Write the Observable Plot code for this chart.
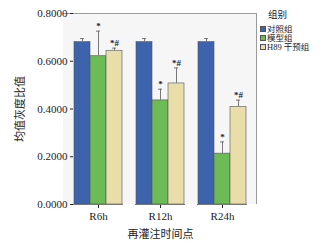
<!DOCTYPE html>
<html><head><meta charset="utf-8">
<script src="https://cdn.jsdelivr.net/npm/d3@7"></script>
<script src="https://cdn.jsdelivr.net/npm/@observablehq/plot@0.6"></script>
<style>
body{margin:0;background:#fff;}
#wrap{position:relative;width:329px;height:244px;font-family:'Liberation Serif','Noto Sans CJK SC',serif;}
#bg{position:absolute;left:63px;top:13px;width:194px;height:191px;background:#f6f6f6;border-top:1px solid #9a9a9a;border-right:1px solid #9a9a9a;box-sizing:border-box;}
#chart{position:absolute;left:0;top:0;}
#chart svg text{font-family:'Liberation Serif','Noto Sans CJK SC',serif;}
#legend{position:absolute;left:260px;top:10px;font-size:8.5px;color:#222;}
#legend .t{margin-left:8px;height:14.5px;line-height:11px;font-size:9.5px;}
#legend .r{display:flex;align-items:center;white-space:nowrap;height:9px;line-height:9px;}
#legend .s{width:3.5px;height:3.5px;border:0.8px solid #555;margin-right:1.5px;flex:none;}
</style></head>
<body><div id="wrap"><div id="bg"></div><div id="chart"></div><div id="legend"></div></div>
<script>
const times = ["R6h", "R12h", "R24h"];
const groups = ["对照组", "模型组", "H89 干预组"];
const colors = ["#3d63ad", "#6cbb56", "#e9dda9"];
const controlMean = [0.680, 0.680, 0.680];
const controlUpper = [0.695, 0.695, 0.695];
const modelMean = [0.621, 0.436, 0.213];
const modelUpper = [0.726, 0.483, 0.262];
const h89Mean = [0.644, 0.507, 0.409];
const h89Upper = [0.655, 0.572, 0.437];
const sigMarks = ["", "*", "*#"];
const yTicks = [0, 0.2, 0.4, 0.6, 0.8];

const means = [controlMean, modelMean, h89Mean];
const uppers = [controlUpper, modelUpper, h89Upper];
const data = [];
times.forEach((t, i) => groups.forEach((g, j) => {
  data.push({time: t, group: g, value: means[j][i], upper: uppers[j][i], mark: sigMarks[j]});
}));

const chart = Plot.plot({
  width: 329, height: 244,
  marginLeft: 63, marginRight: 72, marginTop: 13, marginBottom: 40,
  style: {background: "transparent", fontSize: "11px", color: "#222"},
  fx: {domain: times, paddingInner: 0.2, paddingOuter: 0.15, label: "再灌注时间点", labelAnchor: "center", labelOffset: 33, tickSize: 4, tickPadding: 4},
  x: {domain: groups, padding: 0, axis: null},
  y: {domain: [0, 0.8], ticks: yTicks, tickFormat: d3.format(".4f"), label: "均值灰度比值", labelAnchor: "center", labelOffset: 57, labelArrow: "none", tickSize: 3, tickPadding: 3},
  color: {domain: groups, range: colors},
  marks: [
    Plot.barY(data, {fx: "time", x: "group", y: "value", fill: "group", stroke: "#555", strokeWidth: 0.6}),
    Plot.ruleX(data, {fx: "time", x: "group", y1: "value", y2: "upper", stroke: "#777", strokeWidth: 1}),
    Plot.tickY(data, {fx: "time", x: "group", y: "upper", stroke: "#777", strokeWidth: 1, insetLeft: 6, insetRight: 6}),
    Plot.text(data, {fx: "time", x: "group", y: "upper", text: "mark", dy: -5, fontWeight: "bold", fontSize: 9, fill: "#222"}),
    Plot.ruleY([0], {stroke: "#777"}),
    Plot.ruleX([0], {frameAnchor: "left", stroke: "#777"})
  ]
});
document.getElementById("chart").appendChild(chart);

const lg = document.getElementById("legend");
lg.innerHTML = `<div class="t">组别</div>` + groups.map((g, i) =>
  `<div class="r"><span class="s" style="background:${colors[i]}"></span>${g}</div>`).join("");
</script></body></html>
